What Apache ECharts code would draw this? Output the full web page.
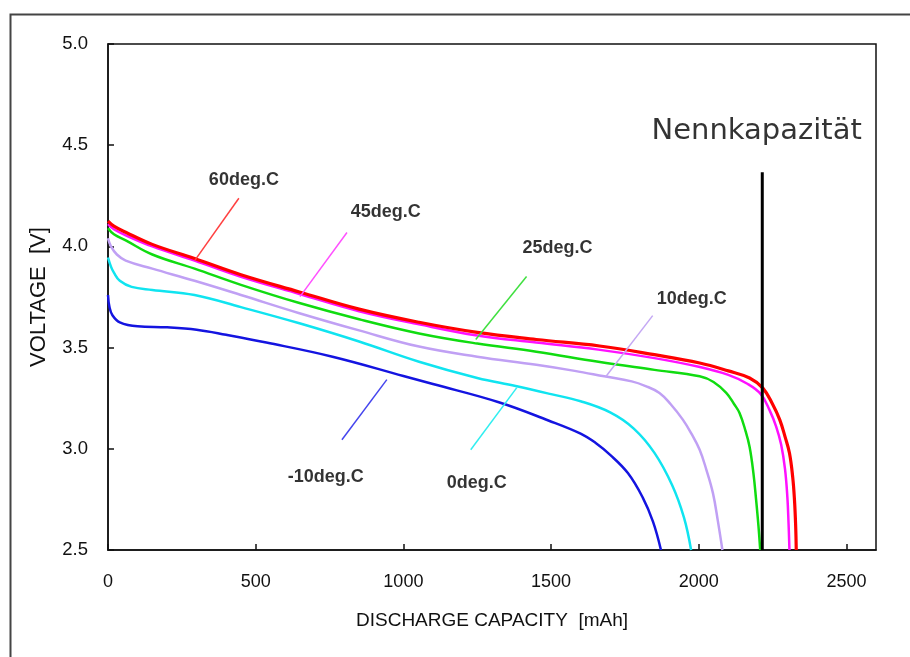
<!DOCTYPE html>
<html><head><meta charset="utf-8">
<script src="https://cdn.jsdelivr.net/npm/echarts@6/dist/echarts.min.js"></script>
<style>html,body{margin:0;padding:0;background:#fff}#c{width:910px;height:657px}</style>
</head><body><div id="c"></div><script>
// ---- data (capacity mAh, voltage V) ----
const t60 = [[0,4.125],[20,4.10],[60,4.07],[150,4.01],[293,3.94],[450,3.86],[648,3.775],[850,3.69],[1053,3.625],[1250,3.575],[1450,3.54],[1664,3.508],[1850,3.465],[2003,3.424],[2100,3.385],[2172,3.35],[2217,3.30],[2250,3.22],[2274,3.144],[2292,3.06],[2307,2.979],[2318,2.86],[2324,2.748],[2328,2.62],[2330,2.5]];
const t45 = [[0,4.11],[20,4.085],[60,4.055],[150,4.0],[293,3.93],[450,3.85],[648,3.765],[850,3.68],[1053,3.615],[1250,3.56],[1450,3.525],[1660,3.49],[1850,3.448],[2000,3.405],[2100,3.365],[2166,3.32],[2210,3.27],[2240,3.19],[2262,3.11],[2279,3.02],[2292,2.9],[2300,2.76],[2304,2.63],[2307,2.5]];
const t25 = [[0,4.09],[20,4.06],[60,4.03],[150,3.96],[293,3.89],[450,3.81],[648,3.72],[850,3.64],[1053,3.57],[1250,3.52],[1450,3.48],[1660,3.43],[1850,3.39],[2003,3.358],[2050,3.33],[2093,3.276],[2120,3.22],[2138,3.177],[2158,3.09],[2172,3.01],[2185,2.88],[2194,2.75],[2202,2.62],[2208,2.5]];
const t10 = [[0,4.04],[10,4.0],[30,3.96],[60,3.93],[150,3.89],[293,3.83],[450,3.76],[648,3.67],[850,3.585],[1053,3.505],[1250,3.455],[1450,3.415],[1580,3.385],[1680,3.358],[1773,3.333],[1820,3.31],[1867,3.276],[1905,3.22],[1946,3.144],[1975,3.075],[2003,2.995],[2025,2.90],[2048,2.781],[2065,2.64],[2080,2.5]];
const t0 = [[0,3.945],[10,3.90],[20,3.87],[40,3.83],[80,3.80],[150,3.785],[293,3.76],[450,3.70],[648,3.62],[850,3.53],[1053,3.43],[1250,3.35],[1380,3.31],[1500,3.27],[1600,3.235],[1700,3.18],[1780,3.10],[1850,2.98],[1910,2.82],[1950,2.66],[1974,2.5]];
const tm10 = [[0,3.76],[5,3.70],[15,3.66],[40,3.625],[100,3.605],[200,3.60],[300,3.588],[400,3.563],[536,3.525],[760,3.455],[1000,3.36],[1100,3.32],[1323,3.23],[1491,3.14],[1600,3.075],[1650,3.03],[1700,2.97],[1760,2.88],[1810,2.76],[1845,2.64],[1872,2.5]];
const ratedCap = 2215;
const ratedLine = [[ratedCap,2.5],[ratedCap,4.366]];
const ratedText = 'Nennkapazität';
const ratedTextPos = [2196, 4.567];
// annotation labels and arrows (data coordinates)
const labelNames = ['60deg.C','45deg.C','25deg.C','10deg.C','-10deg.C','0deg.C'];
const labelPos = [[460,4.327],[940,4.168],[1522,3.990],[1976,3.738],[737,2.861],[1248,2.832]];
const arrowFrom = [[443,4.238],[809,4.069],[1417,3.851],[1844,3.658],[792,3.045],[1228,2.995]];
const arrowTo = [[294,3.931],[650,3.752],[1245,3.540],[1685,3.356],[944,3.342],[1384,3.302]];
const xTickValues = [0,500,1000,1500,2000,2500];
const yTickValues = [2.5,3.0,3.5,4.0,4.5,5.0];

const FONT = "'Liberation Sans',Arial,sans-serif";
const curves = [
  {data: tm10, color:'#1414e0', width:2.5, arrow:'#4545ee', idx:4},
  {data: t0, color:'#10e4f0', width:2.5, arrow:'#30eef0', idx:5},
  {data: t10, color:'#c0a0f4', width:2.5, arrow:'#c4a8f4', idx:3},
  {data: t25, color:'#10dc10', width:2.5, arrow:'#40e040', idx:2},
  {data: t45, color:'#ff10ff', width:2.5, arrow:'#ff50ff', idx:1},
  {data: t60, color:'#ff0000', width:3.2, arrow:'#ff4040', idx:0}
];
const series = curves.map(c => ({
  type:'line', data:c.data, showSymbol:false, symbol:'none', smooth:0.4,
  lineStyle:{color:c.color, width:c.width}, animation:false, silent:true, z:3,
  markLine:{silent:true, animation:false, symbol:['none','arrow'], symbolSize:[0,9],
    lineStyle:{color:c.arrow, width:1.5, type:'solid'}, label:{show:false},
    data:[[{coord:arrowFrom[c.idx]},{coord:arrowTo[c.idx]}]]}
}));
series.push({type:'line', data:ratedLine, showSymbol:false, symbol:'none', lineStyle:{color:'#000', width:3}, animation:false, silent:true, z:5});
series.push({type:'scatter', symbolSize:1, itemStyle:{color:'transparent'}, animation:false, silent:true, z:6,
  data: labelNames.map((n,i)=>({value:labelPos[i], label:{show:true, position:'inside', formatter:n,
    fontFamily:FONT, fontWeight:'bold', fontSize:18, color:'#000'}})).concat([
    {value:ratedTextPos, label:{show:true, position:'inside', formatter:ratedText, fontFamily:"'DejaVu Sans',sans-serif", fontSize:29, color:'#000'}}])
});

const chart = echarts.init(document.getElementById('c'), null, {renderer:'canvas'});
chart.setOption({
  backgroundColor:'#fff',
  animation:false,
  grid:{left:108, top:44, right:34, bottom:107, show:true, borderColor:'#111', borderWidth:1.5, backgroundColor:'transparent'},
  xAxis:{type:'value', min:0, max:2600, interval:500,
    name:'DISCHARGE CAPACITY  [mAh]', nameLocation:'middle', nameGap:61,
    nameTextStyle:{fontFamily:FONT, fontSize:19, color:'#111'},
    axisLine:{show:true, onZero:false, lineStyle:{color:'#111', width:1.5}},
    axisTick:{show:true, inside:true, length:6, lineStyle:{color:'#111', width:1.5}},
    axisLabel:{fontFamily:FONT, fontSize:18, color:'#111', margin:23, showMaxLabel:false,
      formatter:v => xTickValues.includes(v) ? String(v) : ''},
    splitLine:{show:false}},
  yAxis:{type:'value', min:2.5, max:5.0, interval:0.5,
    name:'VOLTAGE  [V]', nameLocation:'middle', nameGap:58,
    nameTextStyle:{fontFamily:FONT, fontSize:22, color:'#111'},
    axisLine:{show:true, onZero:false, lineStyle:{color:'#111', width:1.5}},
    axisTick:{show:true, inside:true, length:6, lineStyle:{color:'#111', width:1.5}},
    axisLabel:{fontFamily:FONT, fontSize:18.5, color:'#111', margin:20,
      formatter:v => yTickValues.some(t=>Math.abs(t-v)<1e-9) ? v.toFixed(1) : ''},
    splitLine:{show:false}},
  graphic:[{type:'rect', left:8, top:12, shape:{width:960, height:720}, style:{fill:'none', stroke:'#444', lineWidth:2}, silent:true, z:-1}],
  series: series
});
</script></body></html>
